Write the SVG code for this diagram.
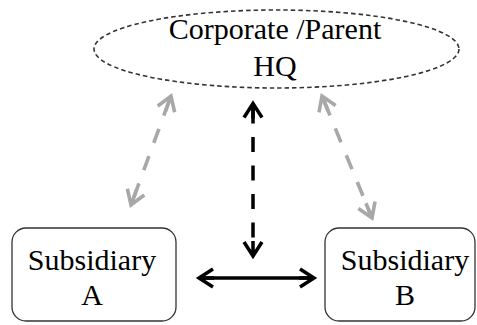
<svg xmlns="http://www.w3.org/2000/svg" width="477" height="325" viewBox="0 0 477 325">
  <style>
    .label { font-family: "Liberation Serif", "DejaVu Serif", serif; font-size: 30px; fill: #000; text-anchor: middle; }
    .box { fill: #fff; stroke: #333; stroke-width: 1.3; }
    .hq { fill: #fff; stroke: #333; stroke-width: 1.6; stroke-dasharray: 4.5 3; }
    .link-main { fill: none; stroke: #000; stroke-width: 3.5; }
    .link-hq { fill: none; stroke: #000; stroke-width: 3.5; stroke-dasharray: 15 13.5; }
    .link-side { fill: none; stroke: #a8a8a8; stroke-width: 3.6; stroke-dasharray: 15 14; }
  </style>
  <defs>
    <marker id="head-black" markerUnits="userSpaceOnUse" orient="auto-start-reverse" overflow="visible" markerWidth="1" markerHeight="1" refX="0" refY="0">
      <path d="M -14 -9 L 0 0 L -14 9 M -15 0 L 0 0" fill="none" stroke="#000" stroke-width="3.5" stroke-linejoin="miter"/>
    </marker>
    <marker id="head-gray" markerUnits="userSpaceOnUse" orient="auto-start-reverse" overflow="visible" markerWidth="1" markerHeight="1" refX="0" refY="0">
      <path d="M -14 -9 L 0 0 L -14 9 M -16 0 L 0 0" fill="none" stroke="#a8a8a8" stroke-width="3.6" stroke-linejoin="miter"/>
    </marker>
  </defs>

  <g id="hq">
    <ellipse class="hq" cx="276.5" cy="49" rx="182.5" ry="39"/>
    <text class="label" x="275" y="39">Corporate /Parent</text>
    <text class="label" x="275" y="76">HQ</text>
  </g>

  <g id="subsidiary-a">
    <rect class="box" x="12" y="228" width="164" height="93" rx="14" ry="14"/>
    <text class="label" x="92" y="270">Subsidiary</text>
    <text class="label" x="92" y="305">A</text>
  </g>

  <g id="subsidiary-b">
    <rect class="box" x="325" y="228" width="150" height="93" rx="14" ry="14"/>
    <text class="label" x="405" y="270">Subsidiary</text>
    <text class="label" x="405" y="305">B</text>
  </g>

  <g id="connectors">
    <line class="link-main" x1="199" y1="278" x2="314" y2="278" marker-start="url(#head-black)" marker-end="url(#head-black)"/>
    <line class="link-hq" x1="253" y1="103.5" x2="253" y2="256" stroke-dashoffset="-5" marker-start="url(#head-black)" marker-end="url(#head-black)"/>
    <line class="link-side" x1="171" y1="96" x2="131" y2="205" stroke-dashoffset="-6" marker-start="url(#head-gray)" marker-end="url(#head-gray)"/>
    <line class="link-side" x1="322" y1="96" x2="372" y2="218" stroke-dashoffset="-6" marker-start="url(#head-gray)" marker-end="url(#head-gray)"/>
  </g>
</svg>
